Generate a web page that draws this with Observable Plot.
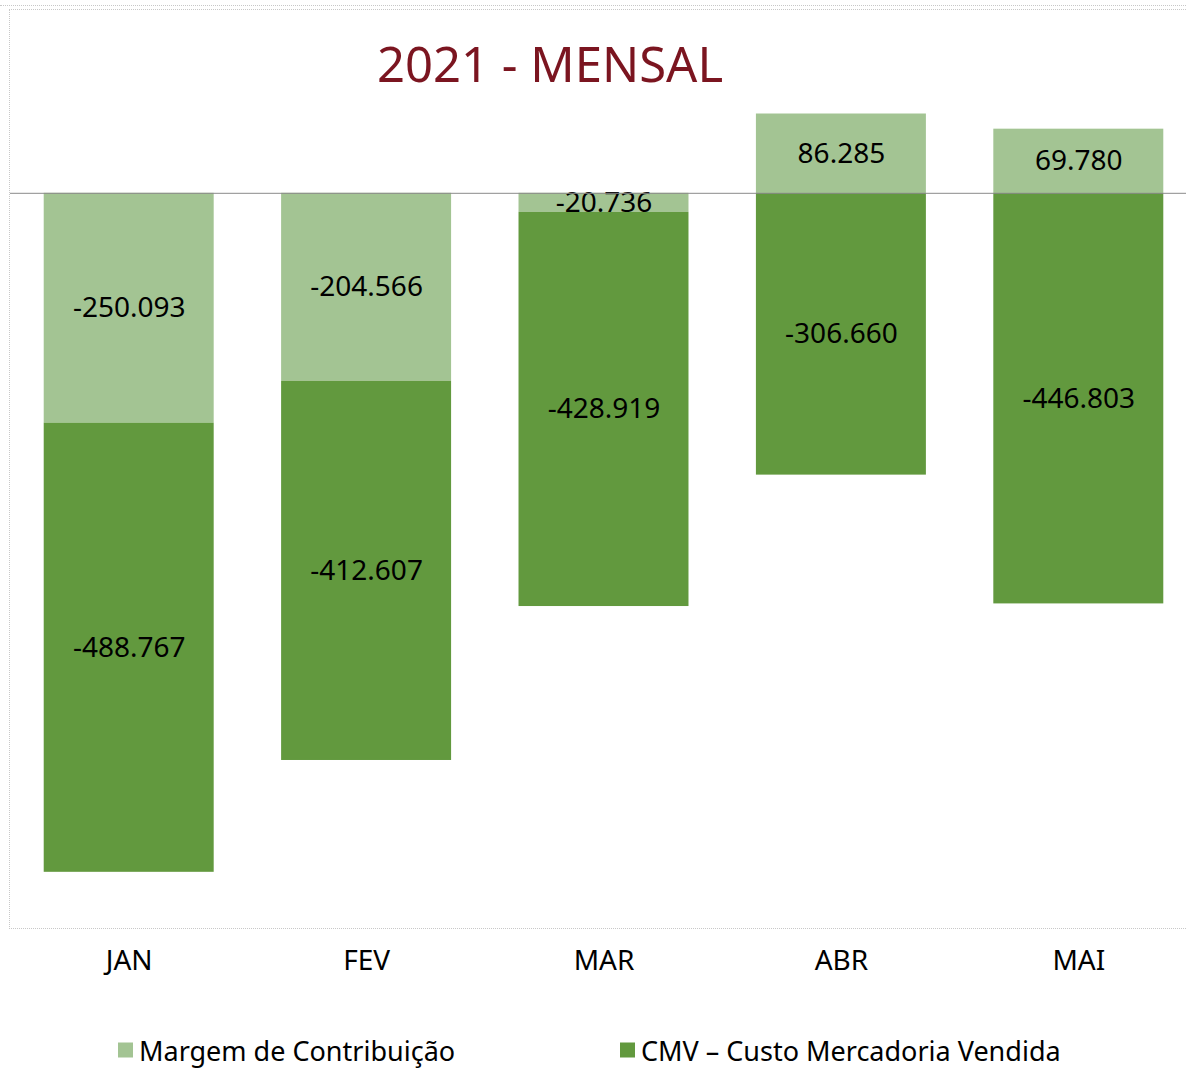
<!DOCTYPE html>
<html>
<head>
<meta charset="utf-8">
<script src="https://cdn.jsdelivr.net/npm/d3@7"></script>
<script src="https://cdn.jsdelivr.net/npm/@observablehq/plot@0.6"></script>
<style>
  body { margin: 0; background: #fff; overflow: hidden; }
  #wrap { position: relative; width: 1186px; height: 1068px; overflow: hidden; font-family: "Noto Sans", sans-serif; }
  #outer { position: absolute; left: 0; top: 5px; width: 1186px; height: 0; border-top: 1px dotted #c8c8c8; pointer-events: none; }
  #inner { position: absolute; left: 9px; top: 9px; width: 1177px; height: 920px; border-top: 1px dotted #c8c8c8; border-left: 1px dotted #c8c8c8; border-bottom: 1px dotted #c8c8c8; box-sizing: border-box; pointer-events: none; }
  #title { position: absolute; top: 34px; left: 0; width: 1100px; text-align: center; font-size: 49px; line-height: 1.2; color: #7B1520; }
  #chart { position: absolute; left: 0; top: 0; }
  #legend { position: absolute; top: 1050px; left: 0; width: 1186px; font-size: 27px; line-height: 1; color: #000; }
  .item { position: absolute; top: 0; transform: translateY(-50%); display: flex; align-items: center; white-space: nowrap; }
  .sw { width: 15px; height: 15px; margin-right: 6px; }
</style>
</head>
<body>
<div id="wrap">
  <div id="outer"></div>
  <div id="inner"></div>
  <div id="chart"></div>
  <div id="title">2021 - MENSAL</div>
  <div id="legend"></div>
</div>
<script>
const months = ["JAN", "FEV", "MAR", "ABR", "MAI"];
const margem = [-250093, -204566, -20736, 86285, 69780];
const cmv = [-488767, -412607, -428919, -306660, -446803];
const seriesNames = ["Margem de Contribuição", "CMV – Custo Mercadoria Vendida"];
const seriesColors = ["#A3C493", "#62993E"];

const rows = [];
months.forEach((m, i) => rows.push({month: m, series: seriesNames[0], value: margem[i]}));
months.forEach((m, i) => rows.push({month: m, series: seriesNames[1], value: cmv[i]}));

const fmt = d3.formatLocale({decimal: ",", thousands: ".", grouping: [3], currency: ["R$", ""], minus: "-"}).format(",d");

const chart = Plot.plot({
  width: 1186,
  height: 1000,
  marginTop: 9,
  marginBottom: 72,
  marginLeft: 10,
  marginRight: -11,
  style: {fontFamily: "Noto Sans, sans-serif", background: "transparent", overflow: "visible"},
  x: {domain: months, paddingInner: 0.284, paddingOuter: 0.142, round: false, label: null},
  y: {domain: [-800000, 200000], axis: null},
  color: {domain: seriesNames, range: seriesColors},
  marks: [
    Plot.barY(rows, Plot.stackY({x: "month", y: "value", fill: "series", order: null})),
    Plot.text(rows, Plot.stackY({x: "month", y: "value", z: "series", order: null, text: d => fmt(d.value), fill: "#000", fontSize: 28, fontFamily: "Noto Sans, sans-serif"})),
    Plot.ruleY([0], {stroke: "#8a8a8a", strokeWidth: 1}),
    Plot.axisX({tickSize: 0, tickPadding: 22, fontSize: 28, fill: "#000", label: null, fontFamily: "Noto Sans, sans-serif"})
  ]
});
document.getElementById("chart").appendChild(chart);

const legend = document.getElementById("legend");
const lx = [118, 620];
seriesNames.forEach((s, i) => {
  const it = document.createElement("div");
  it.className = "item";
  it.style.left = lx[i] + "px";
  it.innerHTML = `<span class="sw" style="background:${seriesColors[i]}"></span><span>${s}</span>`;
  legend.appendChild(it);
});
</script>
</body>
</html>
